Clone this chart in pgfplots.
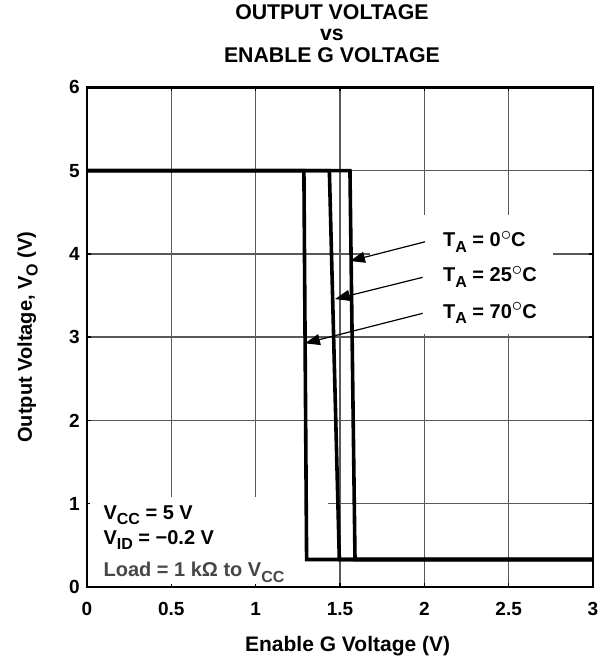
\documentclass[border=0pt]{standalone}
\usepackage{pgfplots}
\pgfplotsset{compat=1.18}
\usepackage{fontspec}
\setmainfont{Liberation Sans}
\usetikzlibrary{arrows.meta}

% lowered, slightly smaller subscript as in the data sheet
\newcommand\sub[1]{\raisebox{-0.28em}{\fontsize{16}{16}\selectfont #1}}
\newcommand\degC{\raisebox{0.32em}{$\circ$}C}

\begin{document}
\begin{tikzpicture}
\begin{axis}[
    at={(0,0)}, anchor=south west,
    scale only axis,
    width=506pt, height=499.7pt,
    xmin=0, xmax=3, ymin=0, ymax=6,
    xtick={0,0.5,1,1.5,2,2.5,3},
    ytick={0,1,2,3,4,5,6},
    xticklabels={0,0.5,1,1.5,2,2.5,3},
    grid=major,
    major grid style={line width=1.3pt, color=black!65},
    axis line style={line width=2.8pt, black},
    major tick length=4pt,
    tick style={line width=1.3pt, black},
    tick label style={font=\fontsize{19}{22}\selectfont\bfseries},
    /pgf/number format/assume math mode=true,
    xticklabel style={anchor=north, inner sep=0pt, yshift=-15pt},
    yticklabel style={anchor=east, inner sep=0pt, xshift=-7pt},
    title={OUTPUT VOLTAGE\\vs\\ENABLE G VOLTAGE},
    title style={at={(axis description cs:0.484,1)}, anchor=base,
        align=center, inner sep=0pt, yshift=19pt,
        font=\fontsize{21.3}{21.5}\selectfont\bfseries},
    xlabel={Enable G Voltage (V)},
    xlabel style={at={(axis description cs:0.515,0)}, anchor=base,
        inner sep=0pt, yshift=-64pt,
        font=\fontsize{21}{24}\selectfont\bfseries},
    ylabel={Output Voltage, V\sub{O} (V)},
    every axis y label/.style={at={(axis description cs:-0.1087,0.5)},
        rotate=90, anchor=base, inner sep=0pt,
        font=\fontsize{20}{24}\selectfont\bfseries},
    curve/.style={black, line width=3.6pt, mark=none, line join=miter},
]
% white boxes behind the notes
\fill[white] (axis cs:1.678,3.04) rectangle (axis cs:2.762,4.466);
\fill[white] (axis cs:0.02,0.035) rectangle (axis cs:1.429,1.08);

% T_A = 0 C
\addplot[curve] coordinates {(0,5) (1.559,5) (1.589,0.33) (3,0.33)};
% T_A = 25 C
\addplot[curve] coordinates {(0,5) (1.437,5) (1.496,0.33) (3,0.33)};
% T_A = 70 C
\addplot[curve] coordinates {(0,5) (1.286,5) (1.302,0.33) (3,0.33)};

\tikzset{note/.style={anchor=base west, inner sep=0pt, font=\fontsize{20}{24}\selectfont\bfseries}}
\node[note] at (axis cs:2.11,4.085) {T\sub{A} = 0\degC};
\node[note] at (axis cs:2.11,3.665) {T\sub{A} = 25\degC};
\node[note] at (axis cs:2.11,3.226) {T\sub{A} = 70\degC};

\tikzset{pointer/.style={line width=1.2pt, -{Triangle[length=15pt,width=11pt]}}}
\draw[pointer] (axis cs:2.004,4.145) -- (axis cs:1.559,3.914);
\draw[pointer] (axis cs:1.990,3.718) -- (axis cs:1.470,3.457);
\draw[pointer] (axis cs:1.990,3.286) -- (axis cs:1.292,2.926);

\node[note] at (axis cs:0.097,0.813) {V\sub{CC} = 5 V};
\node[note] at (axis cs:0.097,0.516) {V\sub{ID} = −0.2 V};
\node[note, text=black!72] at (axis cs:0.097,0.124) {Load = 1 kΩ to V\sub{CC}};
\end{axis}
\pgfresetboundingbox
\path[use as bounding box] (-87pt,-71pt) rectangle (523pt,587pt);
\end{tikzpicture}
\end{document}
